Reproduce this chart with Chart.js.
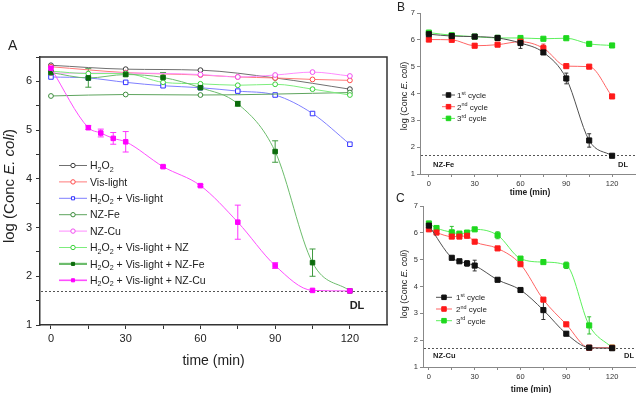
<!DOCTYPE html>
<html><head><meta charset="utf-8">
<script src="https://cdn.jsdelivr.net/npm/chart.js@4.4.1/dist/chart.umd.min.js"></script>
<style>
html,body{margin:0;padding:0;background:#fff;width:640px;height:393px;overflow:hidden;position:relative;}
canvas{position:absolute;}
#cA{left:0;top:0;width:392px;height:393px;}
#cB{left:375px;top:0;width:265px;height:200px;}
#cC{left:375px;top:188px;width:265px;height:205px;}
</style></head><body>
<canvas id="cA" width="392" height="393"></canvas>
<canvas id="cB" width="265" height="200"></canvas>
<canvas id="cC" width="265" height="205"></canvas>
<script>
// ---------- DATA ----------
const xTicks = [0,15,30,45,60,75,90,105,120];
const xTickLabels = [0,30,60,90,120];
const yTicksA = [1,1.5,2,2.5,3,3.5,4,4.5,5,5.5,6,6.5];
const yTickLabelsA = [1,2,3,4,5,6];
const yTicksBC = [1,2,3,4,5,6,7];
const yTickLabelsBC = [1,2,3,4,5,6,7];
const detectionLimit = 1.7;

const labelsA = ['H_{2}O_{2}','Vis-light','H_{2}O_{2} + Vis-light','NZ-Fe','NZ-Cu',
  'H_{2}O_{2} + Vis-light + NZ','H_{2}O_{2} + Vis-light + NZ-Fe','H_{2}O_{2} + Vis-light + NZ-Cu'];
const labelsCycle = ['1^{st} cycle','2^{nd} cycle','3^{rd} cycle'];

// Panel A
const tH2O2 = [0,30,60,90,120];
const yH2O2 = [6.33,6.25,6.23,6.07,5.84];
const tVis = [0,30,60,75,90,105,120];
const yVis = [6.30,6.18,6.13,6.09,6.07,6.04,6.02];
const tH2O2Vis = [0,15,30,45,60,75,90,105,120];
const yH2O2Vis = [6.09,6.07,5.98,5.91,5.87,5.80,5.72,5.34,4.71];
const tNZFe = [0,30,60,120];
const yNZFe = [5.70,5.73,5.72,5.77];
const tNZCu = [0,30,60,75,90,105,120];
const yNZCu = [6.17,6.17,6.14,6.09,6.13,6.19,6.11];
const tAllNZ = [0,15,30,45,60,75,90,105,120];
const yAllNZ = [6.21,6.16,6.16,5.98,5.95,5.92,5.94,5.84,5.72];
const tAllFe = [0,15,30,45,60,75,90,105,120];
const yAllFe = [6.18,6.07,6.14,6.08,5.87,5.54,4.56,2.28,1.70];
const eAllFe = [0,0.19,0.03,0.10,0.02,0.05,0.22,0.28,0];
const tAllCu = [0,15,20,25,30,45,60,75,90,105,120];
const yAllCu = [6.27,5.05,4.94,4.83,4.76,4.25,3.86,3.11,2.22,1.71,1.70];
const eAllCu = [0,0.04,0.08,0.12,0.21,0.02,0.02,0.35,0.06,0,0];

// Panel B (NZ-Fe cycles)
const tB = [0,15,30,45,60,75,90,105,120];
const yB1 = [6.21,6.14,6.12,6.07,5.88,5.53,4.56,2.25,1.68];
const eB1 = [0.02,0.08,0.02,0.04,0.20,0.06,0.20,0.25,0];
const yB2 = [6.01,6.00,5.78,5.82,5.93,5.69,5.02,5.00,3.89];
const eB2 = [0,0.05,0.06,0.03,0.05,0.15,0,0,0];
const yB3 = [6.27,6.17,6.12,6.07,6.07,6.04,6.06,5.85,5.79];
const eB3 = [0,0.07,0,0.10,0,0,0,0.06,0];

// Panel C (NZ-Cu cycles)
const tC1 = [0,15,20,25,30,45,60,75,90,105,120];
const yC1 = [6.27,5.07,4.94,4.86,4.78,4.25,3.87,3.12,2.24,1.72,1.70];
const eC1 = [0,0.03,0.05,0.10,0.20,0,0.03,0.35,0.06,0,0];
const tC2 = [0,5,15,20,25,30,45,60,75,90,105,120];
const yC2 = [6.13,6.01,5.86,5.86,5.89,5.67,5.42,4.83,3.51,2.59,1.72,1.72];
const eC2 = [0,0,0.04,0.03,0.04,0.06,0,0.06,0.04,0.06,0,0];
const tC3 = [0,5,15,20,25,30,45,60,75,90,105,120];
const yC3 = [6.35,6.18,6.02,5.97,6.01,6.13,5.91,5.04,4.91,4.79,2.55,1.72];
const eC3 = [0,0,0.22,0.04,0,0,0.13,0.05,0,0.12,0.32,0];

// ---------- HELPERS ----------
const FF = '"Liberation Sans", Arial, Helvetica, sans-serif';
function pts(t,y){ return t.map((v,i)=>({x:v,y:y[i]})); }
function parseRich(s){
  const re=/(_\{[^}]*\}|\^\{[^}]*\}|\*[^*]*\*)/g; const out=[]; let last=0,m;
  while((m=re.exec(s))){
    if(m.index>last) out.push({t:s.slice(last,m.index),k:'n'});
    const tok=m[0];
    if(tok[0]==='_') out.push({t:tok.slice(2,-1),k:'sub'});
    else if(tok[0]==='^') out.push({t:tok.slice(2,-1),k:'sup'});
    else out.push({t:tok.slice(1,-1),k:'it'});
    last=re.lastIndex;
  }
  if(last<s.length) out.push({t:s.slice(last),k:'n'});
  return out;
}
function segFont(k,size,weight){
  const sz=(k==='sub'||k==='sup')?size*0.68:size;
  return (k==='it'?'italic ':'')+(weight||'normal')+' '+sz+'px '+FF;
}
function drawRich(ctx,s,x,y,size,o){
  o=o||{}; const segs=parseRich(s); let w=0;
  segs.forEach(g=>{ctx.font=segFont(g.k,size,o.weight); g.w=ctx.measureText(g.t).width; w+=g.w;});
  let cx=o.align==='center'?x-w/2:(o.align==='right'?x-w:x);
  const base=y+size*0.36;
  ctx.fillStyle=o.color||'#222'; ctx.textAlign='left'; ctx.textBaseline='alphabetic';
  segs.forEach(g=>{
    ctx.font=segFont(g.k,size,o.weight);
    let by=base; if(g.k==='sub') by=base+size*0.22; if(g.k==='sup') by=base-size*0.42;
    ctx.fillText(g.t,cx,by); cx+=g.w;
  });
}
function drawMarker(ctx,style,x,y,r,fill,stroke,lw){
  ctx.beginPath();
  if(style==='rect'){ const s=r*Math.SQRT1_2; ctx.rect(x-s,y-s,2*s,2*s); }
  else ctx.arc(x,y,r,0,Math.PI*2);
  ctx.fillStyle=fill; ctx.fill(); ctx.lineWidth=lw; ctx.strokeStyle=stroke; ctx.stroke();
}

const decor = {
  id:'decor',
  beforeDatasetsDraw(chart,args,o){
    const ctx=chart.ctx, ys=chart.scales.y;
    ctx.save();
    chart.data.datasets.forEach((ds,i)=>{
      if(!ds.errors) return;
      const meta=chart.getDatasetMeta(i);
      ctx.strokeStyle=ds.errorColor||ds.borderColor; ctx.lineWidth=1;
      meta.data.forEach((pt,j)=>{
        const e=ds.errors[j]; if(!e) return;
        const v=ds.data[j].y, c=o.cap||3;
        const y1=ys.getPixelForValue(v+e), y2=ys.getPixelForValue(v-e);
        ctx.beginPath();
        ctx.moveTo(pt.x,y1); ctx.lineTo(pt.x,y2);
        ctx.moveTo(pt.x-c,y1); ctx.lineTo(pt.x+c,y1);
        ctx.moveTo(pt.x-c,y2); ctx.lineTo(pt.x+c,y2);
        ctx.stroke();
      });
    });
    // detection limit line
    if(o.dl!=null){
      const y=ys.getPixelForValue(o.dl), ca=chart.chartArea;
      ctx.setLineDash([2,2]); ctx.strokeStyle='#555'; ctx.lineWidth=1;
      ctx.beginPath(); ctx.moveTo(ca.left+1,Math.round(y)+0.5); ctx.lineTo(ca.right,Math.round(y)+0.5); ctx.stroke();
      ctx.setLineDash([]);
    }
    ctx.restore();
  },
  afterDraw(chart,args,o){
    const ctx=chart.ctx, ca=chart.chartArea;
    ctx.save();
    if(o.box){
      ctx.strokeStyle=o.boxColor||'#333'; ctx.lineWidth=1.5;
      ctx.beginPath(); ctx.moveTo(ca.left,ca.top); ctx.lineTo(ca.right,ca.top); ctx.lineTo(ca.right,ca.bottom); ctx.stroke();
    }
    (o.texts||[]).forEach(t=>{
      ctx.save();
      if(t.rot){ ctx.translate(t.x,t.y); ctx.rotate(-Math.PI/2); drawRich(ctx,t.t,0,0,t.size,{align:'center',weight:t.weight,color:t.color}); }
      else drawRich(ctx,t.t,t.x,t.y,t.size,{align:t.align,weight:t.weight,color:t.color});
      ctx.restore();
    });
    const L=o.legend;
    if(L){
      chart.data.datasets.forEach((ds,i)=>{
        const y=L.y0+i*L.dy;
        ctx.strokeStyle=ds.borderColor; ctx.lineWidth=ds.legendWidth||ds.borderWidth;
        ctx.beginPath(); ctx.moveTo(L.x0,y); ctx.lineTo(L.x1,y); ctx.stroke();
        drawMarker(ctx,ds.pointStyle,L.xm,y,L.r,ds.pointBackgroundColor,ds.pointBorderColor,1);
        drawRich(ctx,ds.label,L.xt,y,L.size,{color:'#222'});
      });
    }
    ctx.restore();
  }
};

function axisCfg(o){
  const c={
    type:'linear', min:o.min, max:o.max,
    afterBuildTicks: s=>{ s.ticks=o.ticks.map(v=>({value:v})); },
    ticks:{autoSkip:false,maxRotation:0,minRotation:0,padding:o.pad,color:o.tc||'#222',
      font:{family:FF,size:o.size}, callback:v=>o.labels.includes(v)?String(v):''},
    grid:{drawOnChartArea:false,drawTicks:true,tickLength:o.tl,color:o.color,lineWidth:1},
    border:{display:true,color:o.color,width:o.bw}
  };
  if(o.h!=null) c.afterFit=s=>{ s.height=o.h; };
  if(o.w!=null) c.afterFit=s=>{ s.width=o.w; };
  return c;
}
function ds(label,data,st,extra){
  return Object.assign({
    label:label, data:data, borderColor:st.line, borderWidth:1,
    pointStyle:st.shape, pointRadius:st.r, pointBorderWidth:1,
    pointBackgroundColor:st.fill, pointBorderColor:st.mk,
    tension:0.4, cubicInterpolationMode:'monotone', fill:false
  }, extra||{});
}

// ---------- PANEL A ----------
const stA = [
  {line:'#707070',mk:'#3a3a3a',fill:'#fff',shape:'circle',r:2.4},
  {line:'#ff7a7a',mk:'#ff4a4a',fill:'#fff',shape:'circle',r:2.4},
  {line:'#7f7fff',mk:'#3434ff',fill:'#fff',shape:'rect',r:3.2},
  {line:'#5ea45e',mk:'#3a8a3a',fill:'#fff',shape:'circle',r:2.4},
  {line:'#ff8cff',mk:'#f04cf0',fill:'#fff',shape:'circle',r:2.4},
  {line:'#7ded7d',mk:'#38d038',fill:'#fff',shape:'circle',r:2.4},
  {line:'#6cbc6c',mk:'#0b6b0b',fill:'#0b6b0b',shape:'rect',r:3.2},
  {line:'#ff4dff',mk:'#ff00ff',fill:'#ff00ff',shape:'rect',r:3.2}
];
const dataA = [pts(tH2O2,yH2O2),pts(tVis,yVis),pts(tH2O2Vis,yH2O2Vis),pts(tNZFe,yNZFe),
  pts(tNZCu,yNZCu),pts(tAllNZ,yAllNZ),pts(tAllFe,yAllFe),pts(tAllCu,yAllCu)];
const dsA = dataA.map((d,i)=>ds(labelsA[i],d,stA[i],{order:7-i}));
dsA[6].errors=eAllFe; dsA[6].errorColor='#3f9a3f'; dsA[6].legendWidth=2.2;
dsA[7].errors=eAllCu; dsA[7].errorColor='#ff33ff'; dsA[7].legendWidth=1.6;

new Chart(document.getElementById('cA'),{
  type:'line', data:{datasets:dsA},
  options:{responsive:false,animation:false,events:[],
    layout:{padding:{left:0,top:57,right:5,bottom:0}},
    plugins:{legend:{display:false},tooltip:{enabled:false},
      decor:{box:true,dl:detectionLimit,cap:3,
        texts:[
          {t:'A',x:8,y:45,size:14},
          {t:'time (min)',x:213.5,y:360,size:14,align:'center'},
          {t:'log (Conc *E. coli*)',x:9,y:186,size:15,rot:true},
          {t:'DL',x:357,y:305,size:11,weight:'bold',align:'center'}
        ],
        legend:{x0:59,x1:87,xm:73,xt:90,y0:165.5,dy:16.4,size:10.5,r:2.2}
      }},
    scales:{
      x:axisCfg({min:-4.4,max:134.9,ticks:xTicks,labels:xTickLabels,size:11,pad:3,tl:4,color:'#333',bw:1.5,h:68}),
      y:axisCfg({min:1,max:6.5,ticks:yTicksA,labels:yTickLabelsA,size:11,pad:4,tl:4,color:'#333',bw:1.5,w:40})
    }
  },
  plugins:[decor]
});

// ---------- PANELS B & C ----------
const stCyc = [
  {line:'#505050',mk:'#111',fill:'#111',shape:'rect',r:3.6},
  {line:'#ff6464',mk:'#ff1a1a',fill:'#ff1a1a',shape:'rect',r:3.6},
  {line:'#5cf05c',mk:'#1ed81e',fill:'#1ed81e',shape:'rect',r:3.6}
];
const errCol = ['#333','#e03030','#30c030'];
function cycleSets(list){
  return list.map((d,i)=>{ const o=ds(labelsCycle[i],pts(d[0],d[1]),stCyc[i],{order:i}); o.errors=d[2]; o.errorColor=errCol[i]; return o; });
}
const dsB = cycleSets([[tB,yB1,eB1],[tB,yB2,eB2],[tB,yB3,eB3]]);
const dsC = cycleSets([[tC1,yC1,eC1],[tC2,yC2,eC2],[tC3,yC3,eC3]]);

function smallChart(id,dsets,padTop,yW,xH,xmin,texts,legend){
  return new Chart(document.getElementById(id),{
    type:'line', data:{datasets:dsets},
    options:{responsive:false,animation:false,events:[],
      layout:{padding:{left:0,top:padTop,right:1,bottom:0}},
      plugins:{legend:{display:false},tooltip:{enabled:false},
        decor:{box:false,dl:detectionLimit,cap:2,texts:texts,legend:legend}},
      scales:{
        x:axisCfg({min:xmin,max:135,ticks:xTicks,labels:xTickLabels,size:7.5,pad:2,tl:3,color:'#888',bw:1,h:xH,tc:'#333'}),
        y:axisCfg({min:1,max:7,ticks:yTicksBC,labels:yTickLabelsBC,size:7.5,pad:2,tl:3,color:'#888',bw:1,w:yW,tc:'#333'})
      }
    },
    plugins:[decor]
  });
}
smallChart('cB',dsB,13,45,26,-5.8,[
  {t:'B',x:22,y:7,size:12},
  {t:'log (Conc *E. coli*)',x:29,y:96,size:9,rot:true},
  {t:'time (min)',x:155,y:192,size:8.5,weight:'bold',align:'center'},
  {t:'NZ-Fe',x:58,y:164,size:7.5,weight:'bold'},
  {t:'DL',x:248,y:164,size:7.5,weight:'bold',align:'center'}
],{x0:67,x1:80,xm:73.5,xt:82,y0:95,dy:11.7,size:8,r:3.2});

smallChart('cC',dsC,18,48,26,-3.85,[
  {t:'C',x:21,y:10,size:12},
  {t:'log (Conc *E. coli*)',x:29,y:96,size:9,rot:true},
  {t:'time (min)',x:156,y:201,size:8.5,weight:'bold',align:'center'},
  {t:'NZ-Cu',x:58,y:167,size:7.5,weight:'bold'},
  {t:'DL',x:254,y:167,size:7.5,weight:'bold',align:'center'}
],{x0:61,x1:77,xm:69,xt:81,y0:109.3,dy:11.7,size:8,r:3.2});
</script>
</body></html>
